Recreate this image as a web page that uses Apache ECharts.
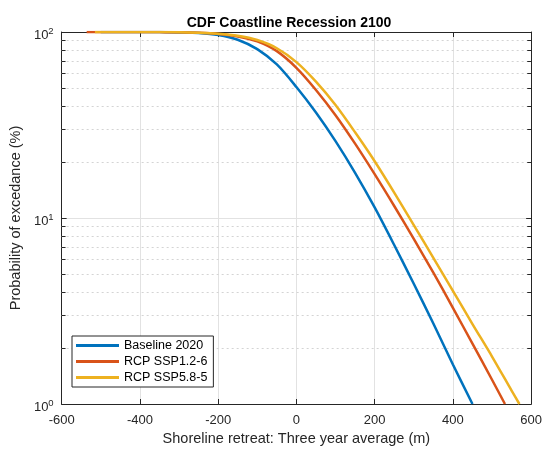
<!DOCTYPE html>
<html><head><meta charset="utf-8">
<script src="https://cdn.jsdelivr.net/npm/echarts@6/dist/echarts.min.js"></script>
<style>html,body{margin:0;padding:0;background:#fff}#c{width:545px;height:452px}</style>
</head><body><div id="c"></div>
<script>
const seriesNames = ['Baseline 2020', 'RCP SSP1.2-6', 'RCP SSP5.8-5'];
const seriesColors = ['#0072BD', '#D95319', '#EDB120'];
// shoreline retreat (m) and probability of exceedance (%) for each curve
const baselineX = [-500, -450, -400, -350, -300, -250, -200, -150, -100, -50, 0, 50, 100, 150, 200, 250, 300, 350, 400, 450];
const baselineP = [100, 99.98, 99.95, 99.85, 99.5, 98.8, 96.4, 90.9, 80.9, 66.9, 50.6, 36.9, 25.9, 17.5, 11.4, 7.16, 4.43, 2.71, 1.63, 1.0];
const ssp126X = [-536, -500, -450, -400, -350, -300, -250, -200, -150, -100, -50, 0, 50, 100, 150, 200, 250, 300, 350, 400, 450, 500, 533];
const ssp126P = [100, 100, 99.98, 99.94, 99.86, 99.75, 99.0, 97.6, 94.7, 89.1, 78.9, 64.2, 48.8, 35.7, 25.1, 17.2, 11.6, 7.72, 5.08, 3.29, 2.11, 1.35, 1.0];
const ssp585X = [-515, -450, -400, -350, -300, -250, -200, -150, -100, -50, 0, 50, 100, 150, 200, 250, 300, 350, 400, 450, 500, 550, 570];
const ssp585P = [100, 99.99, 99.96, 99.9, 99.81, 99.19, 97.9, 95.4, 90.5, 81.8, 68.9, 54.1, 40.5, 28.9, 20.2, 13.7, 9.16, 6.11, 4.06, 2.69, 1.80, 1.18, 1.0];
const minorLevels = [2, 3, 4, 5, 6, 7, 8, 9, 20, 30, 40, 50, 60, 70, 80, 90];
const xMin = -600, xMax = 600, xStep = 200;
const yTickExponents = { 1: '0', 10: '1', 100: '2' };

const FONT = "'Liberation Sans', Arial, Helvetica, sans-serif";
const AX = '#262626';

function pairs(xs, ps) { return xs.map((x, i) => [x, ps[i]]); }
const allData = [pairs(baselineX, baselineP), pairs(ssp126X, ssp126P), pairs(ssp585X, ssp585P)];

const minorTickLen = 10;
const minorTicks = [];
minorLevels.forEach(v => {
  minorTicks.push([{ coord: [xMin, v] }, { coord: [xMin + minorTickLen, v] }]);
  minorTicks.push([{ coord: [xMax - minorTickLen, v] }, { coord: [xMax, v] }]);
});

const series = seriesNames.map((name, i) => ({
  name, type: 'line', data: allData[i], showSymbol: false, symbol: 'none',
  smooth: 0.3,
  lineStyle: { width: 2.5, color: seriesColors[i] }, itemStyle: { color: seriesColors[i] },
  z: 3 + i
}));
series[0].markLine = {
  silent: true, symbol: ['none', 'none'], label: { show: false }, z: 1, animation: false,
  lineStyle: { type: [2, 3], color: '#d4d4d4', width: 1 },
  emphasis: { disabled: true },
  data: minorLevels.map(v => ({ yAxis: v }))
};
series[1].markLine = {
  silent: true, symbol: ['none', 'none'], label: { show: false }, z: 1, animation: false,
  lineStyle: { type: 'solid', color: AX, width: 1 },
  emphasis: { disabled: true },
  data: minorTicks
};

const chart = echarts.init(document.getElementById('c'), null, { renderer: 'canvas' });
chart.setOption({
  animation: false,
  backgroundColor: '#fff',
  textStyle: { fontFamily: FONT },
  title: {
    text: 'CDF Coastline Recession 2100', left: 284, top: 11, textAlign: 'center',
    textStyle: { fontSize: 14, fontWeight: 'bold', color: '#000', fontFamily: FONT }
  },
  legend: {
    data: seriesNames, orient: 'vertical', left: 72, top: 336,
    icon: 'rect', itemWidth: 43, itemHeight: 3, itemGap: 3,
    padding: [3, 6, 3, 4], borderColor: AX, borderWidth: 1, backgroundColor: '#fff',
    textStyle: { fontSize: 12.5, color: '#000', fontFamily: FONT },
    selectedMode: false
  },
  grid: { left: 61, right: 12, top: 32, bottom: 48, containLabel: false },
  xAxis: [{
    type: 'value', min: xMin, max: xMax, interval: xStep, position: 'bottom',
    axisLine: { show: true, onZero: false, lineStyle: { color: AX, width: 1 } },
    axisTick: { show: true, inside: true, length: 5, lineStyle: { color: AX } },
    axisLabel: { color: AX, fontSize: 13, margin: 10, fontFamily: FONT },
    splitLine: { show: true, lineStyle: { color: '#e2e2e2', width: 1 } },
    name: 'Shoreline retreat: Three year average (m)', nameLocation: 'middle', nameGap: 25,
    nameTextStyle: { fontSize: 14.5, color: AX, fontFamily: FONT }
  }, {
    type: 'value', min: xMin, max: xMax, interval: xStep, position: 'top',
    axisLine: { show: true, onZero: false, lineStyle: { color: AX, width: 1 } },
    axisTick: { show: true, inside: true, length: 5, lineStyle: { color: AX } },
    axisLabel: { show: false }, splitLine: { show: false }
  }],
  yAxis: [{
    type: 'log', logBase: 10, min: 1, max: 100, position: 'left',
    axisLine: { show: true, onZero: false, lineStyle: { color: AX, width: 1 } },
    axisTick: { show: true, inside: true, length: 5, lineStyle: { color: AX } },
    axisLabel: {
      color: AX, margin: 8, padding: [6, 0, 0, 0],
      formatter: v => '{b|10}{s|' + (yTickExponents[Math.round(v)] || '') + '}',
      rich: {
        b: { fontSize: 13, lineHeight: 18, color: AX, fontFamily: FONT },
        s: { fontSize: 9.5, lineHeight: 8, verticalAlign: 'top', color: AX, fontFamily: FONT }
      }
    },
    splitLine: { show: true, lineStyle: { color: '#e2e2e2', width: 1 } },
    name: 'Probability of excedance (%)', nameLocation: 'middle', nameGap: 34,
    nameTextStyle: { fontSize: 14.5, color: AX, fontFamily: FONT }
  }, {
    type: 'log', logBase: 10, min: 1, max: 100, position: 'right',
    axisLine: { show: true, onZero: false, lineStyle: { color: AX, width: 1 } },
    axisTick: { show: true, inside: true, length: 5, lineStyle: { color: AX } },
    axisLabel: { show: false }, splitLine: { show: false }
  }],
  series
});
</script></body></html>
